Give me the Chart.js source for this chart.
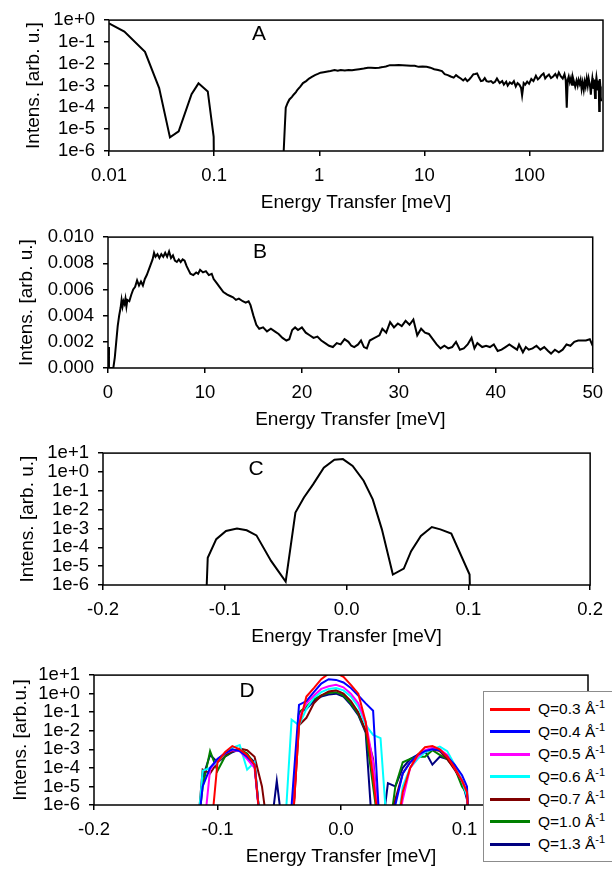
<!DOCTYPE html>
<html>
<head>
<meta charset="utf-8">
<script src="https://cdn.jsdelivr.net/npm/chart.js@4.4.1/dist/chart.umd.min.js"></script>
<style>
  html, body { margin: 0; padding: 0; background: #fff; }
  #page { position: relative; width: 612px; height: 869px; overflow: hidden;
          font-family: "Liberation Sans", Arial, sans-serif; color: #000; }
  .panel { position: absolute; left: 0; }
  .letter { position: absolute; font-size: 21px; transform: translate(-50%, -50%); }
  #legendD { position: absolute; left: 483px; top: 691px; width: 150px; height: 171px;
             border: 1px solid #8c8c8c; background: #fff; box-sizing: border-box; }
  .leg-row { position: absolute; left: 0; height: 20px; display: flex; align-items: center; }
  .leg-line { width: 40px; height: 3px; margin-left: 6px; margin-right: 8px; }
  .leg-text { font-size: 15.5px; white-space: nowrap; }
  .leg-text sup { font-size: 11px; vertical-align: 6px; line-height: 0; }
</style>
</head>
<body>
<div id="page">
  <div class="panel" id="boxA"><canvas id="chartA"></canvas></div>
  <div class="panel" id="boxB"><canvas id="chartB"></canvas></div>
  <div class="panel" id="boxC"><canvas id="chartC"></canvas></div>
  <div class="panel" id="boxD"><canvas id="chartD"></canvas></div>
  <div class="letter" style="left:259px;top:33px">A</div>
  <div class="letter" style="left:260px;top:251px">B</div>
  <div class="letter" style="left:256px;top:468px">C</div>
  <div class="letter" style="left:247px;top:690px">D</div>
  <div id="legendD"></div>
</div>
<script>
// ============================================================
// DATA
// ============================================================
const OFF = 1e-8;   // below the log axis: the line dives out of the frame

// --- Panel A: log-log, full range ---
const energyA = [
  0.01, 0.014, 0.022, 0.030, 0.038, 0.046, 0.061, 0.071, 0.087, 0.099, 0.1,
  0.2,
  0.459, 0.47, 0.48, 0.50, 0.52, 0.55, 0.57, 0.60, 0.62, 0.66,
  0.70, 0.75, 0.80, 0.85, 0.91, 0.97, 1.03, 1.1, 1.2, 1.28,
  1.4, 1.5, 1.6, 1.75, 1.9, 2.05, 2.2, 2.4, 2.65, 2.9,
  3.1, 3.4, 3.7, 4.0, 4.3, 4.7, 5.2, 5.7, 6.2, 6.8,
  7.4, 8.1, 8.8, 9.6, 10.5, 11.4, 12.4, 13.5, 14.7, 15.6,
  16.7, 17.8, 19.0, 20.0, 21.0, 22.2, 23.4, 24.5, 25.6, 26.7,
  28.0, 29.3, 30.5, 31.7, 33.0, 34.5, 36.0, 37.5, 39.0, 41.0,
  43.0, 45.0, 47.0, 49.0, 52, 55, 57, 60, 62, 65,
  68, 71, 74, 77, 80, 83, 85, 88, 91, 95,
  99, 104, 109, 115, 120, 125, 130, 136, 141, 146,
  153, 160, 168, 176, 183, 190, 198, 207, 215, 221,
  226, 231, 236, 242, 248, 254, 259, 265, 272, 280,
  287, 293, 300, 306, 313, 320, 328, 335, 342, 350,
  358, 365, 372, 378, 383, 390, 396, 400, 406, 412,
  420, 427, 433, 440, 446, 452, 456, 460, 464, 468,
  472, 476, 480
];
const intensA = [
  0.7, 0.3, 0.035, 7.6e-4, 4.2e-6, 8e-6, 4e-4, 1.26e-3, 5.4e-4, 4.5e-6, OFF,
  null,
  1e-6, 1.2e-5, 9.6e-5, 1.6e-4, 2.3e-4, 3e-4, 3.8e-4, 5e-4, 6.4e-4, 9e-4,
  1.3e-3, 1.6e-3, 2.1e-3, 2.5e-3, 3e-3, 3.4e-3, 3.9e-3, 4.1e-3, 4.4e-3, 4.6e-3,
  5.1e-3, 4.8e-3, 5.2e-3, 4.9e-3, 5.1e-3, 5.0e-3, 5.3e-3, 5.6e-3, 6.0e-3, 6.5e-3,
  6.6e-3, 6.4e-3, 6.6e-3, 7.0e-3, 7.5e-3, 8.6e-3, 8.5e-3, 8.7e-3, 8.6e-3, 8.4e-3,
  8.1e-3, 8.0e-3, 7.2e-3, 7.4e-3, 7.3e-3, 6.6e-3, 5.6e-3, 5.2e-3, 4.6e-3, 3.3e-3,
  3.0e-3, 2.6e-3, 2.3e-3, 3.0e-3, 2.5e-3, 2.1e-3, 1.7e-3, 2.1e-3, 1.6e-3, 1.9e-3,
  2.5e-3, 3.3e-3, 3.4e-3, 3.6e-3, 2.4e-3, 1.6e-3, 1.7e-3, 2.2e-3, 1.6e-3, 1.5e-3,
  1.6e-3, 1.3e-3, 1.5e-3, 2.1e-3, 1.3e-3, 1.6e-3, 1.1e-3, 1.5e-3, 1.0e-3, 1.4e-3,
  1.2e-3, 1.6e-3, 9e-4, 1.3e-3, 1.1e-3, 8e-4, 3.5e-4, 1.3e-3, 1.1e-3, 1.5e-3,
  1.2e-3, 2.0e-3, 1.6e-3, 2.8e-3, 1.9e-3, 2.3e-3, 3.0e-3, 3.6e-3, 2.1e-3, 2.6e-3,
  3.2e-3, 2.2e-3, 2.6e-3, 3.4e-3, 2.4e-3, 4.0e-3, 2.7e-3, 2.1e-3, 3.3e-3, 1.8e-3,
  9.6e-5, 1.8e-3, 2.6e-3, 1.4e-3, 2.2e-3, 1.1e-3, 2.3e-3, 1.5e-3, 9e-4, 1.7e-3,
  1.0e-3, 1.8e-3, 1.2e-3, 1.8e-3, 7e-4, 1.4e-3, 6.4e-4, 1.5e-3, 9e-4, 2.1e-3,
  1.0e-3, 2.1e-3, 1.3e-3, 8e-4, 3.8e-4, 1.2e-3, 2.2e-3, 1.5e-3, 7e-4, 1.9e-3,
  2.7e-4, 1.3e-3, 2.4e-3, 1.3e-3, 6e-4, 1.7e-3, 9e-4, 6.8e-5, 1.1e-3, 2.0e-3,
  9e-4, 3e-4, 1.9e-4
];
const A_X_TICKS  = [0.01, 0.1, 1, 10, 100];
const A_X_LABELS = ['0.01', '0.1', '1', '10', '100'];
const A_Y_TICKS  = [1e-6, 1e-5, 1e-4, 1e-3, 1e-2, 1e-1, 1];
const A_Y_LABELS = ['1e-6', '1e-5', '1e-4', '1e-3', '1e-2', '1e-1', '1e+0'];

// --- Panel B: linear, 0-50 meV ---
const energyB = [
  0, 0.1, 0.3, 0.55, 0.7, 0.85, 1.0, 1.15, 1.3, 1.4,
  1.5, 1.6, 1.7, 1.8, 1.9, 2.0, 2.2, 2.4, 2.6, 2.8,
  3.0, 3.2, 3.4, 3.6, 3.8, 4.0, 4.2, 4.4, 4.6, 4.75,
  4.9, 5.1, 5.3, 5.5, 5.7, 5.9, 6.1, 6.3, 6.5, 6.7,
  6.9, 7.1, 7.3, 7.5, 7.7, 7.9, 8.1, 8.3, 8.5, 8.8,
  9.1, 9.3, 9.5, 9.8, 10.1, 10.4, 10.7, 10.9, 11.2, 11.5,
  11.9, 12.3, 12.6, 12.9, 13.2, 13.5, 13.9, 14.2, 14.5, 14.7,
  15.0, 15.3, 15.6, 16.0, 16.4, 16.8, 17.2, 17.6, 18.0, 18.4,
  18.7, 19.0, 19.3, 19.6, 20.0, 20.4, 20.8, 21.2, 21.6, 22.0,
  22.4, 22.8, 23.2, 23.6, 24.0, 24.4, 24.8, 25.1, 25.4, 25.8,
  26.1, 26.4, 26.7, 27.0, 27.5, 28.0, 28.3, 28.7, 29.1, 29.5,
  29.9, 30.3, 30.7, 31.1, 31.5, 31.9, 32.3, 32.7, 33.1, 33.5,
  33.9, 34.3, 34.7, 35.1, 35.5, 35.9, 36.3, 36.7, 37.1, 37.5,
  37.8, 38.1, 38.6, 39.0, 39.4, 39.8, 40.2, 40.6, 41.0, 41.4,
  41.8, 42.2, 42.4, 42.8, 43.1, 43.4, 43.8, 44.2, 44.6, 45.0,
  45.4, 45.7, 46.1, 46.5, 46.9, 47.3, 47.7, 48.1, 48.5, 48.9,
  49.3, 49.7, 50
];
const intensB = [
  0.0016, 0, 0, 0, 0.0008, 0.0020, 0.0032, 0.0040, 0.0046, 0.0052,
  0.0047, 0.0051, 0.0049, 0.0053, 0.0047, 0.0052, 0.0051, 0.0056, 0.0060, 0.0062,
  0.0067, 0.0063, 0.0066, 0.0063, 0.0068, 0.0071, 0.0075, 0.0079, 0.0083, 0.0088,
  0.0085, 0.0087, 0.0084, 0.0087, 0.0085, 0.0088, 0.0085, 0.0089, 0.0084, 0.0086,
  0.0082, 0.0081, 0.0083, 0.0081, 0.0083, 0.0082, 0.0078, 0.0075, 0.0072, 0.0071,
  0.0073, 0.0072, 0.0075, 0.0073, 0.0074, 0.0071, 0.0072, 0.0068, 0.0065, 0.0062,
  0.0058, 0.0056, 0.0055, 0.0054, 0.0052, 0.0053, 0.0051, 0.0050, 0.0051, 0.0048,
  0.0040, 0.0033, 0.0030, 0.0031, 0.0028, 0.0030, 0.0028, 0.0026, 0.0023, 0.0021,
  0.0022, 0.0029, 0.0031, 0.0029, 0.0031, 0.0027, 0.0025, 0.0023, 0.0024, 0.0021,
  0.0019, 0.0017, 0.0016, 0.0019, 0.0018, 0.0022, 0.0020, 0.0017, 0.0016, 0.0018,
  0.0021, 0.0016, 0.0015, 0.0021, 0.0023, 0.0025, 0.0030, 0.0027, 0.0035, 0.0031,
  0.0034, 0.0032, 0.0036, 0.0033, 0.0037, 0.0025, 0.0030, 0.0027, 0.0026, 0.0022,
  0.0018, 0.0015, 0.0017, 0.0015, 0.0016, 0.0020, 0.0014, 0.0015, 0.0018, 0.0023,
  0.0015, 0.0019, 0.0016, 0.0017, 0.0016, 0.0018, 0.0013, 0.0014, 0.0016, 0.0018,
  0.0016, 0.0014, 0.0018, 0.0012, 0.0016, 0.0014, 0.0015, 0.0017, 0.0014, 0.0016,
  0.0013, 0.0011, 0.0014, 0.0012, 0.0014, 0.0018, 0.0017, 0.0020, 0.0021, 0.0021,
  0.0021, 0.0022, 0.0017
];
const B_Y_TICKS = [0, 0.002, 0.004, 0.006, 0.008, 0.010];

// --- Panel C: resolution function, log y ---
const energyC = [
  -0.116, -0.114, -0.107, -0.099, -0.090, -0.082, -0.074, -0.062, -0.050, -0.042,
  -0.035, -0.0275, -0.0187, -0.010, -0.003, 0.005, 0.014, 0.0215, 0.029, 0.038,
  0.047, 0.053, 0.061, 0.070, 0.077, 0.086, 0.101, 0.102
];
const intensC = [
  OFF, 2.8e-5, 2.7e-4, 7.4e-4, 1e-3, 8e-4, 4.3e-4, 1.9e-5, 1.5e-6, 7e-3,
  0.044, 0.22, 1.7, 4.4, 4.8, 2.1, 0.34, 0.035, 9e-4, 3.6e-6,
  7.4e-6, 6.3e-5, 4e-4, 1.2e-3, 9e-4, 5.4e-4, 3.6e-6, OFF
];
const QE_X_TICKS  = [-0.2, -0.1, 0, 0.1, 0.2];
const QE_X_LABELS = ['-0.2', '-0.1', '0.0', '0.1', '0.2'];
const QE_Y_TICKS  = [1e-6, 1e-5, 1e-4, 1e-3, 1e-2, 1e-1, 1, 10];
const QE_Y_LABELS = ['1e-6', '1e-5', '1e-4', '1e-3', '1e-2', '1e-1', '1e+0', '1e+1'];

// --- Panel D: Q-resolved spectra on a common energy grid ---
const energyD = [
  -0.117, -0.112, -0.106, -0.100, -0.094, -0.088, -0.082, -0.076, -0.070, -0.064,
  -0.058, -0.052, -0.046, -0.040, -0.034, -0.028, -0.022, -0.016, -0.010, -0.004,
   0.002,  0.008,  0.014,  0.020,  0.026,  0.032,  0.038,  0.044,  0.050,  0.056,
   0.062,  0.068,  0.074,  0.080,  0.086,  0.092,  0.098,  0.102,  0.104
];
const qLabels = ['0.3', '0.4', '0.5', '0.6', '0.7', '1.0', '1.3'];
const qColors = ['#ff0000', '#0000ff', '#ff00ff', '#00ffff', '#800000', '#008000', '#000080'];
const intensQ03 = [
  OFF, OFF, OFF, 2e-4, 7e-4, 1.5e-3, 1e-3, 5e-4, 1.5e-4, OFF,
  OFF, OFF, OFF, OFF, 0.02, 0.7, 2, 6, 12, 13,
  8, 3, 1, 0.03, 3e-5, OFF, OFF, OFF, 5e-6, 1e-4,
  5e-4, 1.3e-3, 1.5e-3, 1e-3, 4e-4, 1e-4, 2e-5, 5e-6, OFF
];
const intensQ04 = [
  OFF, 1e-5, 1e-4, 3e-4, 6e-4, 1e-3, 8e-4, 4e-4, 1.5e-4, OFF,
  OFF, OFF, OFF, 1e-6, 0.25, 0.4, 1.2, 3.5, 6, 5.5,
  4, 2, 0.8, 0.3, 0.12, OFF, OFF, 1e-6, 5e-5, 2e-4,
  5e-4, 8e-4, 1e-3, 9e-4, 4e-4, 1.5e-4, 4e-5, 1e-5, OFF
];
const intensQ05 = [
  OFF, OFF, 8e-5, 3e-4, 6e-4, 9e-4, 8e-4, 3e-4, 1e-4, OFF,
  OFF, OFF, OFF, OFF, 0.05, 0.3, 0.8, 1.8, 2.5, 3,
  2.2, 1, 0.3, 0.03, 2e-4, OFF, OFF, OFF, 2e-6, 1e-4,
  4e-4, 9e-4, 1.2e-3, 1e-3, 5e-4, 1e-4, 2e-5, 5e-6, OFF
];
const intensQ06 = [
  OFF, 7e-5, 1e-4, 2e-4, 6e-4, 1.2e-3, 1.7e-3, 8e-5, 2e-4, OFF,
  OFF, OFF, OFF, 0.04, 0.02, 0.15, 0.6, 1.2, 1.8, 2,
  1.5, 0.7, 0.2, 0.02, 6e-3, 4e-3, OFF, OFF, 1e-5, 1e-4,
  3e-4, 7e-4, 1e-3, 1.4e-3, 8e-4, 1.5e-4, 2e-5, 3e-6, OFF
];
const intensQ07 = [
  OFF, 8e-5, 5e-5, 2e-4, 5e-4, 8e-4, 1.1e-3, 9e-4, 4e-4, 1e-5,
  OFF, OFF, OFF, OFF, 0.02, 0.05, 0.3, 0.8, 1.3, 1.5,
  1, 0.4, 0.1, 0.01, 3e-4, OFF, OFF, 2e-6, 5e-5, 2e-4,
  4e-4, 7e-4, 1e-3, 8e-4, 3e-4, 8e-5, 2e-5, 5e-6, OFF
];
const intensQ10 = [
  OFF, 1e-5, 8e-4, 7e-5, 4e-4, 8e-4, 1e-3, 6e-4, 1.5e-4, OFF,
  OFF, OFF, OFF, OFF, 0.1, 0.2, 0.5, 0.8, 1.1, 1.2,
  0.8, 0.3, 0.08, 0.01, 1e-5, OFF, OFF, 1e-5, 2e-4, 3e-4,
  4e-4, 4e-4, 9e-4, 5e-4, 3e-4, 1e-4, 1e-5, 4e-6, OFF
];
const intensQ13 = [
  OFF, 3e-5, 5e-4, 2e-4, 4e-4, 7e-4, 1e-3, 5e-4, 2e-4, OFF,
  OFF, 2e-5, OFF, OFF, 0.1, 0.15, 0.4, 0.7, 0.9, 1.0,
  0.7, 0.25, 0.07, 0.008, OFF, OFF, 1.5e-5, 1e-5, 1e-4, 3e-4,
  5e-4, 8e-4, 1.5e-4, 4e-4, 3e-4, 1e-4, 2e-5, 2e-6, OFF
];
const intensD = [intensQ03, intensQ04, intensQ05, intensQ06, intensQ07, intensQ10, intensQ13];

// ============================================================
// SHARED CHART BITS
// ============================================================
Chart.defaults.font.family = '"Liberation Sans", Arial, sans-serif';
Chart.defaults.font.size = 18.5;
Chart.defaults.color = '#000';
const TITLE_FONT = { size: 19 };

// box round the plot area (Excel-style frame)
const framePlugin = {
  id: 'frame',
  afterDatasetsDraw(chart) {
    const a = chart.chartArea, ctx = chart.ctx;
    ctx.save();
    ctx.strokeStyle = '#000';
    ctx.lineWidth = 1.5;
    ctx.strokeRect(a.left, a.top, a.right - a.left, a.bottom - a.top);
    ctx.restore();
  }
};

const toPoints = (xs, ys) => xs.map((x, i) => ({ x, y: ys[i] }));
const fixedTicks = values => scale => { scale.ticks = values.map(v => ({ value: v })); };

function axisGrid() {
  return { drawOnChartArea: false, drawTicks: true, tickLength: 5, color: '#000', lineWidth: 1.5 };
}

// lay one panel out so that its plot area lands at the given page box
function makePanel(id, box, xScale, yScale, datasets, yTitle) {
  const height = box.bottom - box.top + 18 + 64;
  const holder = document.getElementById('box' + id);
  holder.style.top = (box.top - 18) + 'px';
  const canvas = document.getElementById('chart' + id);
  canvas.width = 612;
  canvas.height = height;

  xScale.grid = axisGrid();
  xScale.border = { display: false };
  xScale.bounds = 'data';
  xScale.ticks = Object.assign({ padding: 9, maxRotation: 0, autoSkip: false }, xScale.ticks);
  xScale.title = { display: true, text: 'Energy Transfer [meV]', font: TITLE_FONT,
                   padding: { top: 0, bottom: 1 } };
  xScale.afterFit = s => { s.height = 64; };

  yScale.grid = axisGrid();
  yScale.border = { display: false };
  yScale.bounds = 'data';
  yScale.ticks = Object.assign({ padding: 9, autoSkip: false }, yScale.ticks);
  yScale.title = { display: true, text: yTitle, font: TITLE_FONT,
                   padding: { top: box.titleX - 11.4, bottom: 0 } };
  yScale.afterFit = s => { s.width = box.left; };

  return new Chart(canvas, {
    type: 'line',
    data: { datasets },
    options: {
      responsive: false,
      animation: false,
      layout: { padding: { top: 18, right: 612 - box.right, left: 0, bottom: 0 } },
      plugins: { legend: { display: false }, tooltip: { enabled: false } },
      elements: { point: { radius: 0 }, line: { tension: 0 } },
      scales: { x: xScale, y: yScale }
    },
    plugins: [framePlugin]
  });
}

const blackLine = (xs, ys) => ({
  data: toPoints(xs, ys), borderColor: '#000', borderWidth: 2, spanGaps: false, fill: false
});

// ============================================================
// PANELS
// ============================================================
makePanel('A', { top: 18, bottom: 151, left: 109, right: 603, titleX: 34 },
  { type: 'logarithmic', min: 0.01, max: 500, afterBuildTicks: fixedTicks(A_X_TICKS),
    ticks: { callback: (v, i) => A_X_LABELS[i] } },
  { type: 'logarithmic', min: 1e-6, max: 1, afterBuildTicks: fixedTicks(A_Y_TICKS),
    ticks: { callback: (v, i) => A_Y_LABELS[i] } },
  [blackLine(energyA, intensA)], 'Intens. [arb. u.]');

makePanel('B', { top: 235, bottom: 368, left: 108, right: 600, titleX: 27 },
  { type: 'linear', min: 0, max: 50, ticks: { stepSize: 10 } },
  { type: 'linear', min: 0, max: 0.010, afterBuildTicks: fixedTicks(B_Y_TICKS),
    ticks: { callback: v => v.toFixed(3) } },
  [blackLine(energyB, intensB)], 'Intens. [arb. u.]');

makePanel('C', { top: 451, bottom: 585, left: 103, right: 598, titleX: 28 },
  { type: 'linear', min: -0.2, max: 0.2, afterBuildTicks: fixedTicks(QE_X_TICKS),
    ticks: { callback: (v, i) => QE_X_LABELS[i] } },
  { type: 'logarithmic', min: 1e-6, max: 10, afterBuildTicks: fixedTicks(QE_Y_TICKS),
    ticks: { callback: (v, i) => QE_Y_LABELS[i] } },
  [blackLine(energyC, intensC)], 'Intens. [arb. u.]');

const chartD = makePanel('D', { top: 673, bottom: 805, left: 94, right: 588, titleX: 21 },
  { type: 'linear', min: -0.2, max: 0.2, afterBuildTicks: fixedTicks(QE_X_TICKS),
    ticks: { callback: (v, i) => QE_X_LABELS[i] } },
  { type: 'logarithmic', min: 1e-6, max: 10, afterBuildTicks: fixedTicks(QE_Y_TICKS),
    ticks: { callback: (v, i) => QE_Y_LABELS[i] } },
  intensD.map((ys, k) => ({
    label: 'Q=' + qLabels[k] + ' Å⁻¹',
    data: toPoints(energyD, ys), borderColor: qColors[k], borderWidth: 2, fill: false
  })), 'Intens. [arb.u.]');

// ============================================================
// LEGEND FOR D (HTML so the Å^-1 can carry a real superscript)
// ============================================================
const legend = document.getElementById('legendD');
chartD.data.datasets.forEach((ds, k) => {
  const row = document.createElement('div');
  row.className = 'leg-row';
  row.style.top = (7 + k * 22.5) + 'px';
  row.innerHTML = `<span class="leg-line" style="background:${ds.borderColor}"></span>` +
    `<span class="leg-text">Q=${qLabels[k]} Å<sup>-1</sup></span>`;
  legend.appendChild(row);
});
</script>
</body>
</html>
